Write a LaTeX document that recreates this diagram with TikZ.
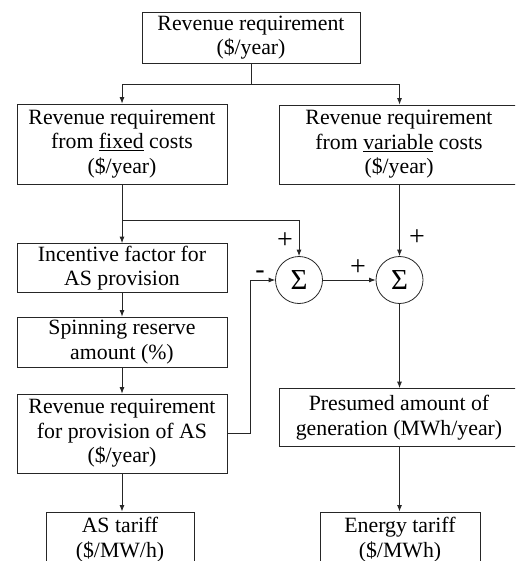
\documentclass[tikz,border=0pt]{standalone}
\usepackage{fontspec}
\setmainfont{Liberation Serif}
\usetikzlibrary{arrows.meta,calc}
\begin{document}
\begin{tikzpicture}[x=1pt,y=-1pt,
 box/.style={draw=black!85, line width=0.8pt, rectangle, align=center, inner sep=0pt, font=\fontsize{21.8}{24.5}\selectfont},
 sumnode/.style={draw=black!85, circle, line width=0.8pt, inner sep=0pt, minimum size=47pt, font=\fontsize{29}{29}\selectfont},
 conn/.style={draw=black!85, line width=0.8pt},
 arr/.style={conn, -{Latex[length=6.5pt,width=5pt]}},
 sign/.style={font=\fontsize{28}{28}\selectfont, inner sep=0pt}]
\useasboundingbox (0,0) rectangle (515,561);
\clip (0,0) rectangle (515,561);
\node[box, minimum width=218pt, minimum height=51pt] (top) at (251,37.5) {Revenue requirement\\(\$/year)};
\node[box, minimum width=210pt, minimum height=80pt] (fixed) at (122,144) {Revenue requirement\\from \underline{fixed} costs\\(\$/year)};
\node[box, minimum width=240pt, minimum height=79pt] (var) at (399,144.5) {Revenue requirement\\from \underline{variable} costs\\(\$/year)};
\node[box, minimum width=210pt, minimum height=49pt] (inc) at (122,268) {Incentive factor for\\AS provision};
\node[box, minimum width=210pt, minimum height=50pt] (spin) at (122,342) {Spinning reserve\\amount (\%)};
\node[box, minimum width=210pt, minimum height=79pt] (ras) at (122,433.5) {Revenue requirement\\for provision of AS\\(\$/year)};
\node[box, minimum width=240pt, minimum height=58pt] (pres) at (399,417.5) {Presumed amount of\\generation (MWh/year)};
\node[box, minimum width=148pt, minimum height=55pt, anchor=north] (ast) at (120,511.5) {AS tariff\\(\$/MW/h)};
\node[box, minimum width=160pt, minimum height=55pt, anchor=north] (ent) at (400,511.5) {Energy tariff\\(\$/MWh)};
\node[sumnode] (c1) at (299,280) {Σ};
\node[sumnode] (c2) at (399.5,280) {Σ};
\node[sign] (p1) at (285,241) {+};
\node[sign] (p2) at (358,267.5) {+};
\node[sign] (p3) at (417,237.5) {+};
\node[sign] (m1) at (260,275) {-};
\draw[conn] (top.south) -- ++(0,21.5) coordinate (sp1);
\draw[arr] (sp1) -| (fixed.north);
\draw[arr] (sp1) -| (c2 |- var.north);
\draw[conn] (fixed.south) -- ++(0,36) coordinate (sp2);
\draw[arr] (sp2) -| (c1.north);
\draw[arr] (sp2) -- (inc.north);
\draw[arr] (c2 |- var.south) -- (c2.north);
\draw[arr] (inc.south) -- (spin.north);
\draw[arr] (spin.south) -- (ras.north);
\draw[arr] (ras.east) -- ++(23,0) |- (c1.west);
\draw[arr] (c1.east) -- (c2.west);
\draw[arr] (c2.south) -- (c2 |- pres.north);
\draw[arr] (ras.south) -- (ras.south |- ast.north);
\draw[arr] (c2 |- pres.south) -- (c2 |- ent.north);
\end{tikzpicture}
\end{document}
